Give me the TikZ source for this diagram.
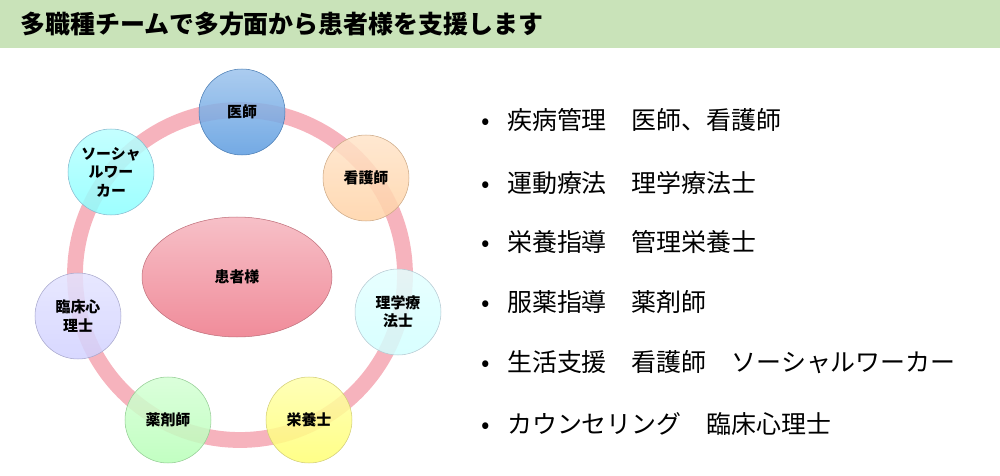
\documentclass[tikz,border=0pt]{standalone}
\usepackage{fontspec}
\setmainfont{Noto Sans CJK JP}
\usetikzlibrary{shapes.geometric}
\definecolor{hdr}{HTML}{C9E3B9}
\definecolor{ring}{HTML}{F4A0AC}
\definecolor{pat}{HTML}{F08C9A}
\definecolor{doc}{HTML}{5B9BE0}
\tikzset{x=0.02cm,y=-0.02cm,
 role/.style={circle,minimum size=1.72cm,inner sep=0pt,align=center,font=\fontsize{8.5}{10.5}\selectfont\bfseries,draw=#1!80!black,line width=0.3pt,top color=#1!60,bottom color=#1,fill opacity=0.85,text opacity=1},
 item/.style={anchor=west,font=\fontsize{14.2}{16}\selectfont}}
\begin{document}
\begin{tikzpicture}
\useasboundingbox (0,0) rectangle (1000,476);
\fill[hdr] (0,0) rectangle (1000,48);
\node[anchor=west,font=\fontsize{14.2}{16}\selectfont\bfseries] (title) at (14,24) {多職種チームで多方面から患者様を支援します};
\coordinate (c) at (240,275);
\draw[ring,line width=9pt,opacity=0.8] (c) circle[radius=165];
\node[ellipse,minimum width=3.8cm,minimum height=2.4cm,draw=pat!80!black,line width=0.3pt,top color=pat!55,bottom color=pat,font=\fontsize{8.5}{10}\selectfont\bfseries] (pt) at (237,277) {患者様};
\node[role=doc] (a) at (242,112) {医師};
\node[role={orange!35!white}] (b) at (366,178) {看護師};
\node[role={cyan!18!white}] (d) at (398,312) {理学療\\法士};
\node[role={yellow!55!white}] (e) at (309,420) {栄養士};
\node[role={green!28!white}] (f) at (168,420) {薬剤師};
\node[role={blue!18!white}] (g) at (78,316) {臨床心\\理士};
\node[role={cyan!45!white}] (h) at (111,172) {ソーシャ\\ルワー\\カー};
\foreach \y/\t [count=\i] in {120/疾病管理　医師、看護師,183/運動療法　理学療法士,242/栄養指導　管理栄養士,302/服薬指導　薬剤師,362/生活支援　看護師　ソーシャルワーカー,424/カウンセリング　臨床心理士}{
 \node[item] (l\i) at (475,\y) {•\hspace{0.7em}\t};}
\end{tikzpicture}
\end{document}
